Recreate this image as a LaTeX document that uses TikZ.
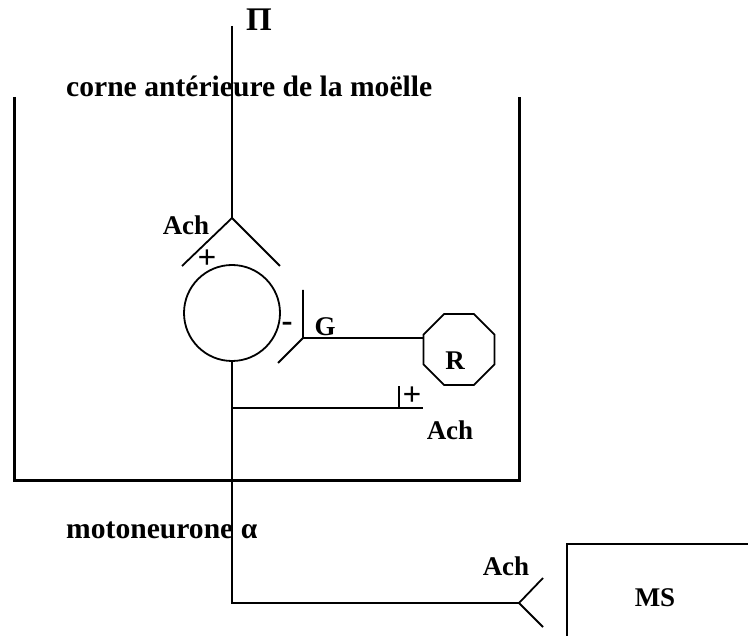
\documentclass[tikz,border=0pt]{standalone}
\usepackage{fontspec}
\setmainfont{Liberation Serif}
\usetikzlibrary{shapes.geometric}
\begin{document}
\begin{tikzpicture}[x=1pt,y=-1pt,
  lbl/.style={font=\bfseries\fontsize{27}{30}\selectfont, inner sep=0pt},
  biglbl/.style={font=\bfseries\fontsize{29.6}{32}\selectfont, inner sep=0pt},
  sign/.style={font=\bfseries\fontsize{33}{36}\selectfont, inner sep=0pt},
  thinline/.style={line width=1.8pt},
  wall/.style={line width=3pt}]
\useasboundingbox (0,0) rectangle (748,636);
\clip (0,0) rectangle (748,636);
% spinal cord box (open at top)
\coordinate (bxtl) at (14,97);
\coordinate (bxbl) at (14,481);
\coordinate (bxbr) at (519,481);
\coordinate (bxtr) at (519,97);
\draw[wall] (bxtl) -- (bxbl) -- (bxbr) -- (bxtr);
% labels
\node[biglbl, anchor=base west] (corne) at (66,97) {corne antérieure de la moëlle};
\node[sign] (pi) at (259,20) {Π};
% neuron
\coordinate (top) at (232,26);
\coordinate (apex) at (232,218);
\coordinate (forkL) at (182,266);
\coordinate (forkR) at (280,266);
\draw[thinline] (top) -- (apex);
\draw[thinline] (forkL) -- (apex) -- (forkR);
\node[lbl] (ach1) at (186,225) {Ach};
\node[sign] (plus1) at (207,259) {+};
\node[circle, draw, thinline, minimum size=96pt, inner sep=0pt] (soma) at (232,313) {};
\node[sign] (minus) at (287,327) {-};
% G synapse and Renshaw cell
\coordinate (gtop) at (303,290);
\coordinate (gjoin) at (303,338);
\coordinate (gdiag) at (278,363);
\draw[thinline] (gtop) -- (gjoin) -- (gdiag);
\node[lbl] (g) at (325,327) {G};
\node[regular polygon, regular polygon sides=8, draw, thinline, minimum size=77pt, inner sep=0pt] (renshaw) at (459,349.5) {};
\node[lbl] (r) at (455,361) {R};
\draw[thinline] (gjoin) -- (renshaw.west |- gjoin);
% axon and collateral
\coordinate (colJ) at (232,408);
\coordinate (colEnd) at (423,408);
\coordinate (colTickB) at (399,408);
\coordinate (colTickT) at (399,386);
\draw[thinline] (colJ) -- (colEnd);
\draw[thinline] (colTickB) -- (colTickT);
\node[sign] (plus2) at (412,396) {+};
\node[lbl] (ach2) at (450,430) {Ach};
\coordinate (corner) at (232,603);
\coordinate (nmj) at (519,603);
\coordinate (nmjU) at (543,578);
\coordinate (nmjD) at (543,627);
\draw[thinline] (soma.south) -- (corner) -- (nmj);
\draw[thinline] (nmjU) -- (nmj) -- (nmjD);
\node[biglbl, anchor=base west] (moto) at (66,539) {motoneurone α};
\node[lbl] (ach3) at (506,566) {Ach};
% muscle
\coordinate (msBL) at (567,640);
\coordinate (msTL) at (567,544);
\coordinate (msTR) at (752,544);
\draw[thinline] (msBL) -- (msTL) -- (msTR);
\node[lbl] (ms) at (655,598) {MS};
\end{tikzpicture}
\end{document}
